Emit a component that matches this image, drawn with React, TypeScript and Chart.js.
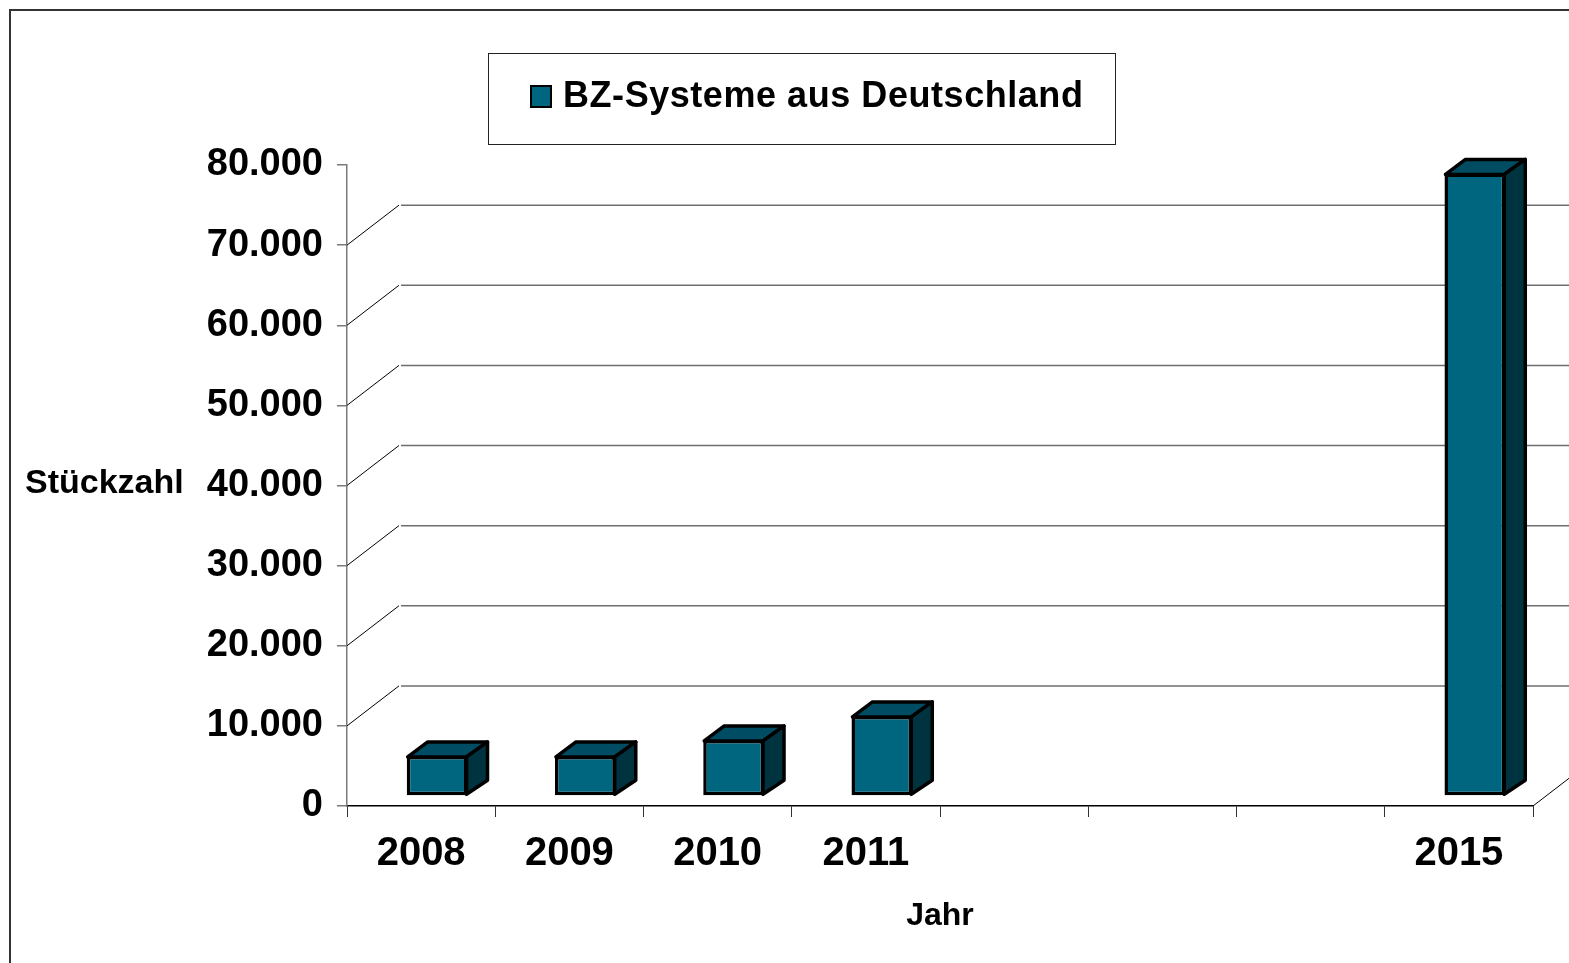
import React, { useEffect, useRef } from 'react';
import { Chart, registerables } from 'chart.js';

Chart.register(...registerables);

// ---- data ----
const years = ['2008', '2009', '2010', '2011', '2012', '2013', '2014', '2015'];
const xTickLabels = ['2008', '2009', '2010', '2011', '', '', '', '2015'];
const units: (number | null)[] = [5000, 5000, 7000, 10000, null, null, null, 77700];
const yMin = 0;
const yMax = 80000;
const yStep = 10000;
const seriesLabel = 'BZ-Systeme aus Deutschland';
const yTitle = 'Stückzahl';
const xTitle = 'Jahr';

// ---- style ----
const FONT = '"Liberation Sans", Arial, Helvetica, sans-serif';
const FRONT = '#006680';
const TOP = '#004d63';
const SIDE = '#003340';
const FRONT_SHIFT = { dx: 16, dy: -10 };
const BAR_DEPTH = { dx: 20, dy: -15 };
const WALL = { dx: 52, dy: -40 };

const fmt = (v: number) => String(Math.round(v)).replace(/\B(?=(\d{3})+(?!\d))/g, '.');

const threeD = {
  id: 'threeD',
  beforeDraw(chart: any) {
    const { ctx, width, height } = chart;
    ctx.save();
    ctx.fillStyle = '#ffffff';
    ctx.fillRect(0, 0, width, height);
    ctx.strokeStyle = '#333333';
    ctx.lineWidth = 2;
    ctx.strokeRect(10, 10, width + 50, height + 50);
    ctx.restore();
  },
  beforeDatasetsDraw(chart: any) {
    const { ctx, chartArea, width } = chart;
    const ys = chart.scales.y;
    ctx.save();
    for (let v = yMin + yStep; v < yMax; v += yStep) {
      const py = ys.getPixelForValue(v);
      ctx.strokeStyle = '#000000';
      ctx.lineWidth = 1;
      ctx.beginPath();
      ctx.moveTo(chartArea.left, py);
      ctx.lineTo(chartArea.left + WALL.dx, py + WALL.dy);
      ctx.stroke();
      ctx.strokeStyle = '#6e6e6e';
      ctx.lineWidth = 1.5;
      ctx.beginPath();
      ctx.moveTo(chartArea.left + WALL.dx + 2, py + WALL.dy);
      ctx.lineTo(width, py + WALL.dy);
      ctx.stroke();
    }
    ctx.strokeStyle = '#000000';
    ctx.lineWidth = 1;
    ctx.beginPath();
    ctx.moveTo(chartArea.right, chartArea.bottom);
    ctx.lineTo(chartArea.right + WALL.dx, chartArea.bottom + WALL.dy);
    ctx.stroke();
    ctx.restore();
  },
  beforeDatasetDraw(chart: any) {
    chart.ctx.save();
    chart.ctx.translate(FRONT_SHIFT.dx, FRONT_SHIFT.dy);
  },
  afterDatasetDraw(chart: any, args: any) {
    const { ctx } = chart;
    ctx.restore();
    const meta = args.meta;
    ctx.save();
    ctx.lineWidth = 3.5;
    ctx.strokeStyle = '#000000';
    ctx.lineJoin = 'round';
    meta.data.forEach((el: any, i: number) => {
      if (units[i] == null) return;
      const p = el.getProps(['x', 'y', 'base', 'width'], true);
      const L = p.x - p.width / 2 + FRONT_SHIFT.dx;
      const R = p.x + p.width / 2 + FRONT_SHIFT.dx;
      const T = Math.min(p.y, p.base) + FRONT_SHIFT.dy;
      const B = Math.max(p.y, p.base) + FRONT_SHIFT.dy;
      const ins = 1;
      ctx.beginPath();
      ctx.moveTo(L + ins, T + ins);
      ctx.lineTo(L + BAR_DEPTH.dx + ins, T + BAR_DEPTH.dy + ins);
      ctx.lineTo(R + BAR_DEPTH.dx, T + BAR_DEPTH.dy + ins);
      ctx.lineTo(R - ins, T + ins);
      ctx.closePath();
      ctx.fillStyle = TOP;
      ctx.fill();
      ctx.stroke();
      ctx.beginPath();
      ctx.moveTo(R - ins, T + ins);
      ctx.lineTo(R + BAR_DEPTH.dx, T + BAR_DEPTH.dy + ins);
      ctx.lineTo(R + BAR_DEPTH.dx, B + BAR_DEPTH.dy);
      ctx.lineTo(R - ins, B - ins);
      ctx.closePath();
      ctx.fillStyle = SIDE;
      ctx.fill();
      ctx.stroke();
    });
    ctx.restore();
  },
  afterDraw(chart: any) {
    const { ctx } = chart;
    ctx.save();
    ctx.strokeStyle = '#222222';
    ctx.lineWidth = 1;
    ctx.strokeRect(488.5, 53.5, 627, 91);
    ctx.fillStyle = FRONT;
    ctx.fillRect(531, 86, 20, 21);
    ctx.strokeStyle = '#000000';
    ctx.lineWidth = 2;
    ctx.strokeRect(531, 86, 20, 21);
    ctx.fillStyle = '#000000';
    ctx.font = `bold 36px ${FONT}`;
    (ctx as any).letterSpacing = '0.55px';
    ctx.textAlign = 'left';
    ctx.textBaseline = 'middle';
    ctx.fillText(seriesLabel, 563, 97);
    (ctx as any).letterSpacing = '0px';
    ctx.font = `bold 34px ${FONT}`;
    ctx.fillText(yTitle, 25, 484);
    ctx.restore();
  },
};

export default function App() {
  const ref = useRef<HTMLCanvasElement | null>(null);
  useEffect(() => {
    if (!ref.current) return;
    const chart = new Chart(ref.current, {
      type: 'bar',
      data: {
        labels: years,
        datasets: [
          {
            label: seriesLabel,
            data: units,
            backgroundColor: FRONT,
            borderColor: '#000000',
            borderWidth: 3.5,
            borderSkipped: false,
            barPercentage: 0.41,
            categoryPercentage: 1,
            clip: false as any,
          },
        ],
      },
      options: {
        responsive: false,
        animation: false,
        devicePixelRatio: 1,
        layout: { padding: { top: 165, right: 36, left: 0, bottom: 0 } },
        plugins: {
          legend: { display: false },
          title: { display: false },
          tooltip: { enabled: false },
        },
        scales: {
          x: {
            afterFit: (s: any) => {
              s.height = 157;
            },
            grid: {
              display: true,
              drawOnChartArea: false,
              drawTicks: true,
              tickLength: 11,
              color: '#333333',
              lineWidth: 1,
              offset: true,
            },
            border: { display: true, color: '#000000', width: 1.5 },
            ticks: {
              color: '#000000',
              padding: 13,
              maxRotation: 0,
              autoSkip: false,
              font: { family: FONT, size: 40, weight: 'bold' },
              callback: (_v: any, i: number) => xTickLabels[i],
            },
            title: {
              display: true,
              text: xTitle,
              color: '#000000',
              font: { family: FONT, size: 32, weight: 'bold' },
              padding: { top: 0, bottom: 28 },
            },
          },
          y: {
            min: yMin,
            max: yMax,
            afterFit: (s: any) => {
              s.width = 347;
            },
            grid: {
              display: true,
              drawOnChartArea: false,
              drawTicks: true,
              tickLength: 10,
              color: '#7a7a7a',
              lineWidth: 1.5,
            },
            border: { display: true, color: '#7a7a7a', width: 1.5 },
            ticks: {
              stepSize: yStep,
              color: '#000000',
              padding: 14,
              font: { family: FONT, size: 38, weight: 'bold' },
              callback: (v: any) => fmt(Number(v)),
            },
          },
        },
      },
      plugins: [threeD],
    } as any);
    return () => chart.destroy();
  }, []);
  return (
    <div style={{ position: 'fixed', left: 0, top: 0, width: 1569, height: 963, background: '#fff' }}>
      <canvas ref={ref} width={1569} height={963} style={{ display: 'block' }} />
    </div>
  );
}
